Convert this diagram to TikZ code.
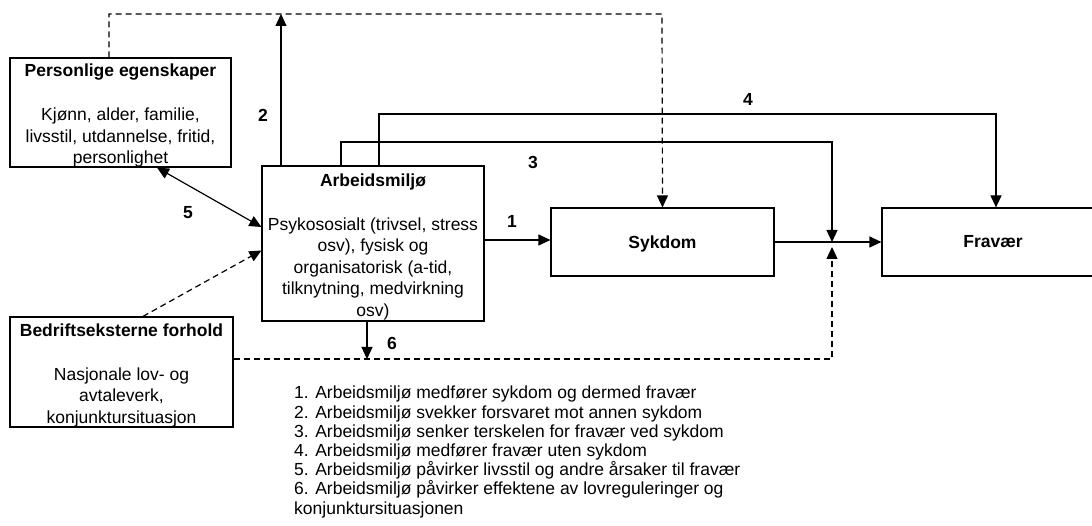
\documentclass[tikz,border=0pt]{standalone}
\usepackage{fontspec}
\setmainfont{Liberation Sans}
\usetikzlibrary{arrows.meta}
\newcommand{\boxfont}{\fontsize{17.5}{21.5}\selectfont}
\newcommand{\listfont}{\fontsize{17.5}{19.2}\selectfont}
\tikzset{
  box/.style={draw, line width=1.2pt, inner sep=0pt},
  boxtext/.style={inner sep=0pt, align=center, font=\boxfont, yshift=-3pt},
  link/.style={line width=1.2pt},
  dashlink/.style={line width=1.2pt, dash pattern=on 6pt off 4pt},
  headto/.style={-{Triangle[length=12pt,width=11pt]}},
  num/.style={font=\boxfont\bfseries, inner sep=0pt},
}
\begin{document}
\begin{tikzpicture}[x=1pt,y=-1pt]
                        \useasboundingbox (0,0) rectangle (1092,526);
                        
                        % Drawing box Personlige egenskaper
                        \node [box, minimum width=221, minimum height=109] (pers) at (120.5,112.5) {};%
                        \node [boxtext] (perstxt) at (pers.center)
                          {\textbf{Personlige egenskaper}\\[22.5pt]Kjønn, alder, familie,\\livsstil, utdannelse, fritid,\\personlighet};%
                        
                        % Drawing box Arbeidsmiljø
                        \node [box, minimum width=222, minimum height=155] (arb) at (373,243.5) {};%
                        \node [boxtext] (arbtxt) at (arb.center)
                          {\textbf{Arbeidsmiljø}\\[22.5pt]Psykososialt (trivsel, stress\\osv), fysisk og\\organisatorisk (a-tid,\\tilknytning, medvirkning\\osv)};%
                        
                        % Drawing box Bedriftseksterne forhold
                        \node [box, minimum width=223, minimum height=110] (bed) at (121.5,372) {};%
                        \node [boxtext] (bedtxt) at (bed.center)
                          {\textbf{Bedriftseksterne forhold}\\[22.5pt]Nasjonale lov- og\\avtaleverk,\\konjunktursituasjon};%
                        
                        % Drawing box Sykdom
                        \node [box, minimum width=223, minimum height=68] (syk) at (662.5,242) {};%
                        \node [boxtext, yshift=1.5pt] (syktxt) at (syk.center) {\textbf{Sykdom}};%
                        
                        % Drawing box Fravær
                        \node [box, minimum width=222, minimum height=68] (fra) at (993,242) {};%
                        \node [boxtext, yshift=3pt] (fratxt) at (fra.center) {\textbf{Fravær}};%
                        
                        % Corner points of the connectors
                        \coordinate (dtop) at (662,14);%
                        \coordinate (c3) at (832,142);%
                        \coordinate (c4) at (996,114);%
                        \coordinate (j) at (832,242);%
                        \coordinate (jb) at (832,359);%
                        
                        % Drawing dashed link Personlige egenskaper -> Sykdom
                        \draw [dashlink, headto] ([xshift=-11.5pt]pers.north) |- (dtop) -- (syk.north);%
                        
                        % Drawing link 2
                        \draw [link, headto] ([xshift=-92pt]arb.north) -- ([xshift=-92pt]arb.north |- dtop);%
                        
                        % Drawing link 3
                        \draw [link, headto] ([xshift=-32pt]arb.north) |- (c3) -- (j);%
                        
                        % Drawing link 4
                        \draw [link, headto] ([xshift=6pt]arb.north) |- (c4) -- (c4 |- fra.north);%
                        
                        % Drawing link 1
                        \draw [link, headto] ([yshift=2pt]syk.west -| arb.east) -- ([yshift=2pt]syk.west);%
                        
                        % Drawing link Sykdom -> Fravær
                        \draw [link, headto] (syk.east) -- (fra.west);%
                        
                        % Drawing link 5
                        \draw [link, {Triangle[length=12pt,width=11pt]}-{Triangle[length=12pt,width=11pt]}]
                          ([xshift=36.5pt]pers.south) -- ([yshift=16.5pt]arb.west);%
                        
                        % Drawing dashed link Bedriftseksterne forhold -> Arbeidsmiljø
                        \draw [dashlink, headto] ([xshift=21.5pt]bed.north) -- ([yshift=-7pt]arb.west);%
                        
                        % Drawing link 6
                        \draw [link, headto] ([xshift=-6pt]arb.south) -- ([xshift=-6pt]arb.south |- jb);%
                        
                        % Drawing dashed link Bedriftseksterne forhold -> Fravær
                        \draw [dashlink, headto] (bed.east |- jb) -- (jb) -- ([yshift=-5pt]j);%
                        
                        % Marking numbers
                        \node [num] (n1) at (512,221) {1};%
                        \node [num] (n2) at (263,115) {2};%
                        \node [num] (n3) at (533,162) {3};%
                        \node [num] (n4) at (748,99) {4};%
                        \node [num] (n5) at (188,213) {5};%
                        \node [num] (n6) at (392,343) {6};%
                        
                        % Writing the list of effects
                        \node [anchor=north west, inner sep=0pt, align=left, font=\listfont] (list) at (294,386)
                          {1. Arbeidsmiljø medfører sykdom og dermed fravær\\
                           2. Arbeidsmiljø svekker forsvaret mot annen sykdom\\
                           3. Arbeidsmiljø senker terskelen for fravær ved sykdom\\
                           4. Arbeidsmiljø medfører fravær uten sykdom\\
                           5. Arbeidsmiljø påvirker livsstil og andre årsaker til fravær\\
                           6. Arbeidsmiljø påvirker effektene av lovreguleringer og\\
                           konjunktursituasjonen};%
                    \end{tikzpicture}
\end{document}
